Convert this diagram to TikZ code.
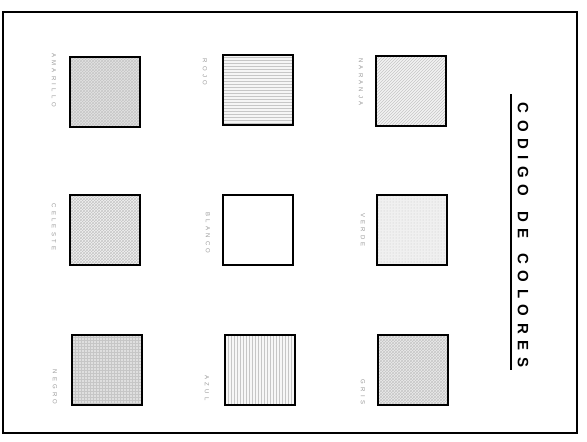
\documentclass[tikz,border=0pt]{standalone}
\usepackage{fontspec}
\setmainfont{Liberation Sans}
\newfontfamily\titlefont[LetterSpace=44]{Liberation Sans}
\newfontfamily\namefont[LetterSpace=55]{Liberation Sans}
\usetikzlibrary{patterns}

\tikzset{
    swatch/.style={draw, line width=1.6pt, minimum size=70pt, inner sep=0pt},
    colorname/.style={rotate=-90, inner sep=0pt, text=gray!80, font=\namefont\fontsize{6}{7}\selectfont},
    shade/.style 2 args={preaction={fill=gray!#1}, pattern=#2, pattern color=gray!45}
}

\begin{document}
\begin{tikzpicture}[x=1pt, y=-1pt]
    \useasboundingbox (0,0) rectangle (587,442);

    % Frame
    \draw[line width=2.4pt] (3,12) rectangle (577,433);

    % Draw nodes
    \node[swatch, shade={22}{crosshatch}] (amarillo) at (105,92) {};
    \node[swatch, shade={8}{horizontal lines}] (rojo) at (258,90) {};
    \node[swatch, shade={10}{north east lines}] (naranja) at (411,91) {};
    \node[swatch, shade={10}{crosshatch}] (celeste) at (105,230) {};
    \node[swatch, fill=white] (blanco) at (258,230) {};
    \node[swatch, shade={12}{dots}] (verde) at (412,230) {};
    \node[swatch, shade={25}{grid}] (negro) at (107,370) {};
    \node[swatch, shade={6}{vertical lines}] (azul) at (260,370) {};
    \node[swatch, shade={16}{crosshatch}] (gris) at (413,370) {};

    % Labels
    \node[colorname] (amarillo-t) at (54,80) {AMARILLO};
    \node[colorname] (rojo-t) at (205,72) {ROJO};
    \node[colorname] (naranja-t) at (361,82) {NARANJA};
    \node[colorname] (celeste-t) at (54,227) {CELESTE};
    \node[colorname] (blanco-t) at (208,233) {BLANCO};
    \node[colorname] (verde-t) at (363,230) {VERDE};
    \node[colorname] (negro-t) at (55,387) {NEGRO};
    \node[colorname] (azul-t) at (207,388) {AZUL};
    \node[colorname] (gris-t) at (363,392) {GRIS};

    % Title
    \node[rotate=-90, inner sep=0pt, font=\titlefont\bfseries\fontsize{15}{16}\selectfont] (titulo) at (523,235) {CODIGO \hspace{4pt}DE \hspace{4pt}COLORES};
    \draw[line width=1.2pt] (511,94) -- (511,370);
\end{tikzpicture}
\end{document}
